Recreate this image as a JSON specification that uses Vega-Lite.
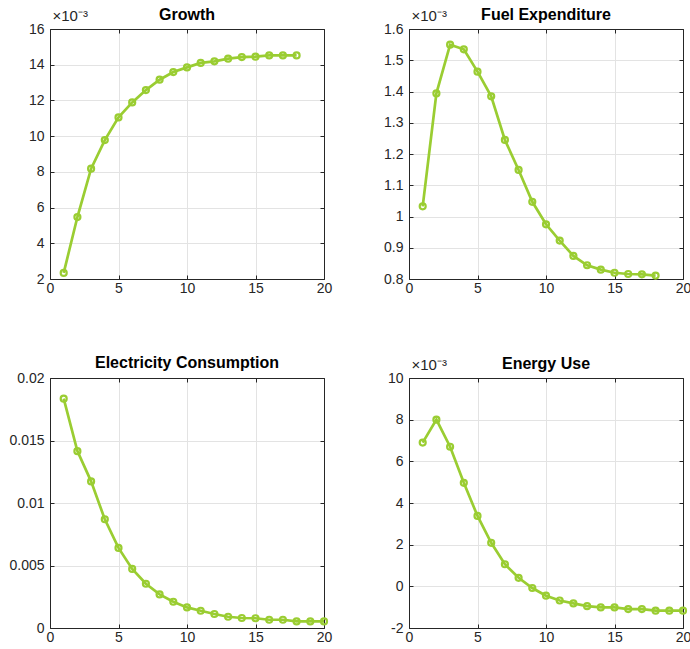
{
  "$schema": "https://vega.github.io/schema/vega-lite/v6.json",
  "background": "white",
  "padding": {"left": 8, "top": 7, "right": 0, "bottom": 0},
  "datasets": {
    "irf": [
      {"series": "Growth", "t": 1, "v": 0.00234},
      {"series": "Growth", "t": 2, "v": 0.00547},
      {"series": "Growth", "t": 3, "v": 0.00818},
      {"series": "Growth", "t": 4, "v": 0.00978},
      {"series": "Growth", "t": 5, "v": 0.01105},
      {"series": "Growth", "t": 6, "v": 0.01189},
      {"series": "Growth", "t": 7, "v": 0.01258},
      {"series": "Growth", "t": 8, "v": 0.01316},
      {"series": "Growth", "t": 9, "v": 0.01359},
      {"series": "Growth", "t": 10, "v": 0.01385},
      {"series": "Growth", "t": 11, "v": 0.0141},
      {"series": "Growth", "t": 12, "v": 0.01419},
      {"series": "Growth", "t": 13, "v": 0.01434},
      {"series": "Growth", "t": 14, "v": 0.01443},
      {"series": "Growth", "t": 15, "v": 0.01445},
      {"series": "Growth", "t": 16, "v": 0.01452},
      {"series": "Growth", "t": 17, "v": 0.01452},
      {"series": "Growth", "t": 18, "v": 0.01452},
      {"series": "Fuel", "t": 1, "v": 0.0010325},
      {"series": "Fuel", "t": 2, "v": 0.001394},
      {"series": "Fuel", "t": 3, "v": 0.00155},
      {"series": "Fuel", "t": 4, "v": 0.001535},
      {"series": "Fuel", "t": 5, "v": 0.0014635},
      {"series": "Fuel", "t": 6, "v": 0.0013845},
      {"series": "Fuel", "t": 7, "v": 0.001245},
      {"series": "Fuel", "t": 8, "v": 0.001149},
      {"series": "Fuel", "t": 9, "v": 0.001047},
      {"series": "Fuel", "t": 10, "v": 0.000975},
      {"series": "Fuel", "t": 11, "v": 0.000923},
      {"series": "Fuel", "t": 12, "v": 0.000874},
      {"series": "Fuel", "t": 13, "v": 0.000844},
      {"series": "Fuel", "t": 14, "v": 0.00083},
      {"series": "Fuel", "t": 15, "v": 0.00082},
      {"series": "Fuel", "t": 16, "v": 0.000816},
      {"series": "Fuel", "t": 17, "v": 0.000815},
      {"series": "Fuel", "t": 18, "v": 0.000811},
      {"series": "Elec", "t": 1, "v": 0.01835},
      {"series": "Elec", "t": 2, "v": 0.01415},
      {"series": "Elec", "t": 3, "v": 0.01173},
      {"series": "Elec", "t": 4, "v": 0.0087},
      {"series": "Elec", "t": 5, "v": 0.00641},
      {"series": "Elec", "t": 6, "v": 0.00473},
      {"series": "Elec", "t": 7, "v": 0.00354},
      {"series": "Elec", "t": 8, "v": 0.00269},
      {"series": "Elec", "t": 9, "v": 0.0021},
      {"series": "Elec", "t": 10, "v": 0.00165},
      {"series": "Elec", "t": 11, "v": 0.00138},
      {"series": "Elec", "t": 12, "v": 0.00112},
      {"series": "Elec", "t": 13, "v": 0.0009},
      {"series": "Elec", "t": 14, "v": 0.0008},
      {"series": "Elec", "t": 15, "v": 0.00078},
      {"series": "Elec", "t": 16, "v": 0.00066},
      {"series": "Elec", "t": 17, "v": 0.00066},
      {"series": "Elec", "t": 18, "v": 0.00053},
      {"series": "Elec", "t": 19, "v": 0.00053},
      {"series": "Elec", "t": 20, "v": 0.00053},
      {"series": "Energy", "t": 1, "v": 0.0069},
      {"series": "Energy", "t": 2, "v": 0.008},
      {"series": "Energy", "t": 3, "v": 0.0067},
      {"series": "Energy", "t": 4, "v": 0.00497},
      {"series": "Energy", "t": 5, "v": 0.00338},
      {"series": "Energy", "t": 6, "v": 0.00209},
      {"series": "Energy", "t": 7, "v": 0.00106},
      {"series": "Energy", "t": 8, "v": 0.00041},
      {"series": "Energy", "t": 9, "v": -0.00008},
      {"series": "Energy", "t": 10, "v": -0.00045},
      {"series": "Energy", "t": 11, "v": -0.00068},
      {"series": "Energy", "t": 12, "v": -0.00082},
      {"series": "Energy", "t": 13, "v": -0.00095},
      {"series": "Energy", "t": 14, "v": -0.00101},
      {"series": "Energy", "t": 15, "v": -0.00101},
      {"series": "Energy", "t": 16, "v": -0.00109},
      {"series": "Energy", "t": 17, "v": -0.00109},
      {"series": "Energy", "t": 18, "v": -0.00117},
      {"series": "Energy", "t": 19, "v": -0.00117},
      {"series": "Energy", "t": 20, "v": -0.00117}
    ]
  },
  "data": {"name": "irf"},
  "columns": 2,
  "spacing": {"row": 99, "column": 85},
  "bounds": "flush",
  "concat": [
    {
      "width": 274, "height": 250,
      "title": {"text": "Growth", "offset": -15},
      "transform": [{"filter": "datum.series === 'Growth'"}],
      "layer": [
        {
          "mark": {"type": "line", "color": "#9ACD32", "strokeWidth": 2.7},
          "encoding": {
            "x": {"field": "t", "type": "quantitative", "scale": {"domain": [0, 20], "nice": false}, "axis": {"orient": "bottom", "values": [0, 5, 10, 15, 20], "title": null, "labelPadding": 6}},
            "y": {"field": "v", "type": "quantitative", "scale": {"domain": [0.002, 0.016], "nice": false, "zero": false}, "axis": {"orient": "left", "values": [0.002, 0.004, 0.006, 0.008, 0.01, 0.012, 0.014, 0.016], "labelExpr": "format(datum.value*1000, '~g')", "title": "×10⁻³", "titleFontSize": 15, "titleFontWeight": "normal", "titleAngle": 0, "titleAlign": "left", "titleBaseline": "alphabetic", "titleX": 2, "titleY": -9}}
          }
        },
        {
          "mark": {"type": "point", "color": "#9ACD32", "filled": false, "strokeWidth": 2.2, "size": 36, "opacity": 1},
          "encoding": {
            "x": {"field": "t", "type": "quantitative", "scale": {"domain": [0, 20], "nice": false}, "axis": {"orient": "top", "values": [0, 5, 10, 15, 20], "labels": false, "grid": false, "title": null}},
            "y": {"field": "v", "type": "quantitative", "scale": {"domain": [0.002, 0.016], "nice": false, "zero": false}, "axis": {"orient": "right", "values": [0.002, 0.004, 0.006, 0.008, 0.01, 0.012, 0.014, 0.016], "labels": false, "grid": false, "title": null}}
          }
        }
      ],
      "resolve": {"axis": {"x": "independent", "y": "independent"}}
    },
    {
      "width": 274, "height": 250,
      "title": {"text": "Fuel Expenditure", "offset": -15},
      "transform": [{"filter": "datum.series === 'Fuel'"}],
      "layer": [
        {
          "mark": {"type": "line", "color": "#9ACD32", "strokeWidth": 2.7},
          "encoding": {
            "x": {"field": "t", "type": "quantitative", "scale": {"domain": [0, 20], "nice": false}, "axis": {"orient": "bottom", "values": [0, 5, 10, 15, 20], "title": null, "labelPadding": 6}},
            "y": {"field": "v", "type": "quantitative", "scale": {"domain": [0.0008, 0.0016], "nice": false, "zero": false}, "axis": {"orient": "left", "values": [0.0008, 0.0009, 0.001, 0.0011, 0.0012, 0.0013, 0.0014, 0.0015, 0.0016], "labelExpr": "format(datum.value*1000, '~g')", "title": "×10⁻³", "titleFontSize": 15, "titleFontWeight": "normal", "titleAngle": 0, "titleAlign": "left", "titleBaseline": "alphabetic", "titleX": 2, "titleY": -9}}
          }
        },
        {
          "mark": {"type": "point", "color": "#9ACD32", "filled": false, "strokeWidth": 2.2, "size": 36, "opacity": 1},
          "encoding": {
            "x": {"field": "t", "type": "quantitative", "scale": {"domain": [0, 20], "nice": false}, "axis": {"orient": "top", "values": [0, 5, 10, 15, 20], "labels": false, "grid": false, "title": null}},
            "y": {"field": "v", "type": "quantitative", "scale": {"domain": [0.0008, 0.0016], "nice": false, "zero": false}, "axis": {"orient": "right", "values": [0.0008, 0.0009, 0.001, 0.0011, 0.0012, 0.0013, 0.0014, 0.0015, 0.0016], "labels": false, "grid": false, "title": null}}
          }
        }
      ],
      "resolve": {"axis": {"x": "independent", "y": "independent"}}
    },
    {
      "width": 274, "height": 250,
      "title": {"text": "Electricity Consumption", "offset": 0},
      "transform": [{"filter": "datum.series === 'Elec'"}],
      "layer": [
        {
          "mark": {"type": "line", "color": "#9ACD32", "strokeWidth": 2.7},
          "encoding": {
            "x": {"field": "t", "type": "quantitative", "scale": {"domain": [0, 20], "nice": false}, "axis": {"orient": "bottom", "values": [0, 5, 10, 15, 20], "title": null, "labelPadding": 6}},
            "y": {"field": "v", "type": "quantitative", "scale": {"domain": [0, 0.02], "nice": false, "zero": false}, "axis": {"orient": "left", "values": [0, 0.005, 0.01, 0.015, 0.02], "format": "~g", "title": null}}
          }
        },
        {
          "mark": {"type": "point", "color": "#9ACD32", "filled": false, "strokeWidth": 2.2, "size": 36, "opacity": 1},
          "encoding": {
            "x": {"field": "t", "type": "quantitative", "scale": {"domain": [0, 20], "nice": false}, "axis": {"orient": "top", "values": [0, 5, 10, 15, 20], "labels": false, "grid": false, "title": null}},
            "y": {"field": "v", "type": "quantitative", "scale": {"domain": [0, 0.02], "nice": false, "zero": false}, "axis": {"orient": "right", "values": [0, 0.005, 0.01, 0.015, 0.02], "labels": false, "grid": false, "title": null}}
          }
        }
      ],
      "resolve": {"axis": {"x": "independent", "y": "independent"}}
    },
    {
      "width": 274, "height": 250,
      "title": {"text": "Energy Use", "offset": -15},
      "transform": [{"filter": "datum.series === 'Energy'"}],
      "layer": [
        {
          "mark": {"type": "line", "color": "#9ACD32", "strokeWidth": 2.7},
          "encoding": {
            "x": {"field": "t", "type": "quantitative", "scale": {"domain": [0, 20], "nice": false}, "axis": {"orient": "bottom", "values": [0, 5, 10, 15, 20], "title": null, "labelPadding": 6}},
            "y": {"field": "v", "type": "quantitative", "scale": {"domain": [-0.002, 0.01], "nice": false, "zero": false}, "axis": {"orient": "left", "values": [-0.002, 0, 0.002, 0.004, 0.006, 0.008, 0.01], "labelExpr": "replace(format(datum.value*1000, '~g'), '−', '-')", "title": "×10⁻³", "titleFontSize": 15, "titleFontWeight": "normal", "titleAngle": 0, "titleAlign": "left", "titleBaseline": "alphabetic", "titleX": 2, "titleY": -9}}
          }
        },
        {
          "mark": {"type": "point", "color": "#9ACD32", "filled": false, "strokeWidth": 2.2, "size": 36, "opacity": 1},
          "encoding": {
            "x": {"field": "t", "type": "quantitative", "scale": {"domain": [0, 20], "nice": false}, "axis": {"orient": "top", "values": [0, 5, 10, 15, 20], "labels": false, "grid": false, "title": null}},
            "y": {"field": "v", "type": "quantitative", "scale": {"domain": [-0.002, 0.01], "nice": false, "zero": false}, "axis": {"orient": "right", "values": [-0.002, 0, 0.002, 0.004, 0.006, 0.008, 0.01], "labels": false, "grid": false, "title": null}}
          }
        }
      ],
      "resolve": {"axis": {"x": "independent", "y": "independent"}}
    }
  ],
  "config": {
    "view": {"stroke": null},
    "font": "Liberation Sans",
    "axis": {
      "labelFont": "Liberation Sans",
      "labelFontSize": 14,
      "labelColor": "#262626",
      "labelPadding": 10,
      "titleFont": "Liberation Sans",
      "titleFontSize": 15,
      "titleFontWeight": "normal",
      "titleColor": "#262626",
      "domainColor": "#262626",
      "domainWidth": 1,
      "tickColor": "#262626",
      "tickSize": -4,
      "tickWidth": 1,
      "gridColor": "#e3e3e3",
      "gridWidth": 1,
      "gridOpacity": 1,
      "labelFlush": false,
      "labelOverlap": false
    },
    "title": {
      "font": "Liberation Sans",
      "fontSize": 16,
      "fontWeight": "bold",
      "color": "#000000",
      "offset": 9,
      "baseline": "alphabetic",
      "anchor": "middle"
    }
  }
}
